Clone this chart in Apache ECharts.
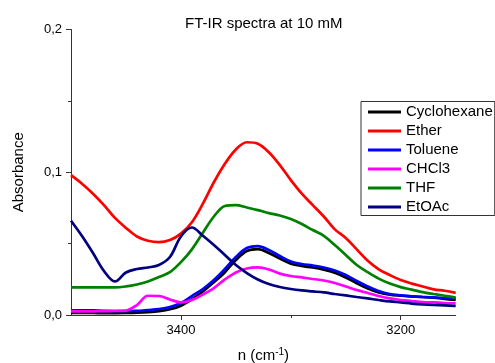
<!DOCTYPE html>
<html><head><meta charset="utf-8">
<script src="https://cdn.jsdelivr.net/npm/echarts@6/dist/echarts.min.js"></script>
<style>html,body{margin:0;padding:0;background:#fff}#c{width:495px;height:363px}</style>
</head><body><div id="c"></div>
<script>
const wavenumbers = [3500,3490,3480,3470,3460,3450,3440,3430,3420,3410,3400,3390,3380,3370,3360,3350,3340,3330,3320,3310,3300,3290,3280,3270,3260,3250,3240,3230,3220,3210,3200,3190,3180,3170,3160,3150];
const cyclohexane = [0.0014,0.0014,0.0014,0.0013,0.0013,0.0014,0.0016,0.0020,0.0027,0.0040,0.0065,0.0110,0.0165,0.0230,0.0300,0.0385,0.0448,0.0462,0.0435,0.0395,0.0360,0.0343,0.0333,0.0318,0.0296,0.0263,0.0222,0.0185,0.0158,0.0142,0.0135,0.0130,0.0126,0.0121,0.0113,0.0105];
const ether = [0.098,0.092,0.085,0.077,0.068,0.061,0.055,0.052,0.051,0.0525,0.057,0.065,0.078,0.093,0.106,0.116,0.121,0.120,0.114,0.105,0.0945,0.085,0.077,0.069,0.060,0.054,0.046,0.038,0.032,0.028,0.0245,0.022,0.020,0.018,0.017,0.0155];
const toluene = [0.0032,0.0032,0.0032,0.0029,0.0028,0.0028,0.0029,0.0035,0.0042,0.0056,0.0084,0.0133,0.0182,0.0245,0.0322,0.0406,0.0469,0.0483,0.0455,0.0413,0.0375,0.0357,0.0347,0.0333,0.0312,0.0280,0.0238,0.0200,0.0168,0.0147,0.0137,0.0130,0.0126,0.0123,0.0119,0.0116];
const chcl3 = [0.0026,0.0026,0.0026,0.0027,0.0028,0.0031,0.0070,0.0135,0.0133,0.0109,0.0088,0.0105,0.0144,0.0189,0.0249,0.0298,0.0326,0.0333,0.0319,0.0290,0.0273,0.0263,0.0252,0.0242,0.0224,0.0200,0.0175,0.0154,0.0133,0.0116,0.0105,0.0098,0.0091,0.0088,0.0084,0.0082];
const thf = [0.0194,0.0194,0.0194,0.0194,0.0193,0.0200,0.0214,0.0235,0.0266,0.0300,0.0370,0.0460,0.0576,0.0690,0.0763,0.0770,0.0753,0.0735,0.0714,0.0697,0.0672,0.0637,0.0595,0.0555,0.0490,0.0420,0.0350,0.0300,0.0255,0.0220,0.0195,0.0178,0.0160,0.0147,0.0135,0.0122];
const etoac = [0.066,0.0553,0.0434,0.0308,0.0235,0.0298,0.0322,0.0333,0.0350,0.0406,0.0550,0.0613,0.0555,0.0490,0.0420,0.0350,0.0294,0.0249,0.0217,0.0196,0.0182,0.0172,0.0165,0.0158,0.0147,0.0137,0.0126,0.0116,0.0105,0.0095,0.0088,0.0080,0.0074,0.0070,0.0067,0.0063];

const seriesNames = ['Cyclohexane','Ether','Toluene','CHCl3','THF','EtOAc'];
const seriesValues = [cyclohexane, ether, toluene, chcl3, thf, etoac];
const seriesColors = ['#000000','#ff0000','#0000ff','#ff00ff','#008000','#000080'];
const xTickLabels = [3400, 3200];
const xMinorTicks = [3300];
const chartTitle = 'FT-IR spectra at 10 mM';
const yAxisName = 'Absorbance';

const FONT = 'Liberation Sans, Arial, sans-serif';
const chart = echarts.init(document.getElementById('c'), null, {renderer: 'canvas'});
const gridPos = {left: 71, right: 39.3, top: 29.5, bottom: 48, containLabel: false, outerBoundsMode: 'none'};
const axisLineStyle = {color: '#333', width: 1};

chart.setOption({
  animation: false,
  backgroundColor: '#fff',
  textStyle: {fontFamily: FONT},
  title: {
    text: chartTitle, left: 185, top: 16, padding: 0,
    textStyle: {fontFamily: FONT, fontSize: 15, fontWeight: 'normal', color: '#000', lineHeight: 15}
  },
  legend: {
    orient: 'vertical', left: 361, top: 101.5,
    icon: 'rect', itemWidth: 33, itemHeight: 3, itemGap: 4,
    padding: [3, 2, 1, 7],
    borderColor: '#333', borderWidth: 1,
    textStyle: {fontFamily: FONT, fontSize: 15, lineHeight: 15, color: '#000'},
    data: seriesNames
  },
  grid: [
    Object.assign({}, gridPos),
    Object.assign({}, gridPos)
  ],
  xAxis: [{
    gridIndex: 0, type: 'value', inverse: true, min: 3150, max: 3500, position: 'bottom',
    name: '{a|n (cm}{s|-1}{a|)}', nameLocation: 'middle', nameGap: 33,
    nameTextStyle: {rich: {
      a: {fontFamily: FONT, fontSize: 15, color: '#000', lineHeight: 15},
      s: {fontFamily: FONT, fontSize: 10, color: '#000', lineHeight: 15, padding: [0, 0, 7, 0]}
    }},
    axisLine: {show: true, lineStyle: axisLineStyle},
    axisTick: {show: true, inside: false, length: 5, customValues: xTickLabels, lineStyle: axisLineStyle},
    axisLabel: {customValues: xTickLabels, margin: 9, fontFamily: FONT, fontSize: 13, color: '#000',
      formatter: v => String(v)},
    splitLine: {show: false}
  }, {
    gridIndex: 1, type: 'value', inverse: true, min: 3150, max: 3500, position: 'bottom',
    axisLine: {show: false},
    axisTick: {show: true, inside: false, length: 3, customValues: xMinorTicks, lineStyle: axisLineStyle},
    axisLabel: {show: false},
    splitLine: {show: false}
  }],
  yAxis: [{
    gridIndex: 0, type: 'value', min: 0, max: 0.2, interval: 0.1,
    name: yAxisName, nameLocation: 'middle', nameGap: 45, nameRotate: 90,
    nameTextStyle: {fontFamily: FONT, fontSize: 15, color: '#000'},
    axisLine: {show: true, lineStyle: axisLineStyle},
    axisTick: {show: true, inside: false, length: 5, lineStyle: axisLineStyle},
    minorTick: {show: true, splitNumber: 2, length: 3, lineStyle: axisLineStyle},
    axisLabel: {margin: 9, fontFamily: FONT, fontSize: 13, color: '#000',
      formatter: v => v.toFixed(1).replace('.', ',')},
    splitLine: {show: false}, minorSplitLine: {show: false}
  }, {
    gridIndex: 1, type: 'value', min: 0, max: 0.2, show: false
  }],
  series: seriesNames.map((name, i) => ({
    name: name, type: 'line', xAxisIndex: 0, yAxisIndex: 0,
    data: wavenumbers.map((w, j) => [w, seriesValues[i][j]]),
    symbol: 'none', smooth: 0.35,
    color: seriesColors[i],
    itemStyle: {color: seriesColors[i]},
    lineStyle: {color: seriesColors[i], width: 2.7},
    emphasis: {disabled: true}
  }))
});
</script>
</body></html>
